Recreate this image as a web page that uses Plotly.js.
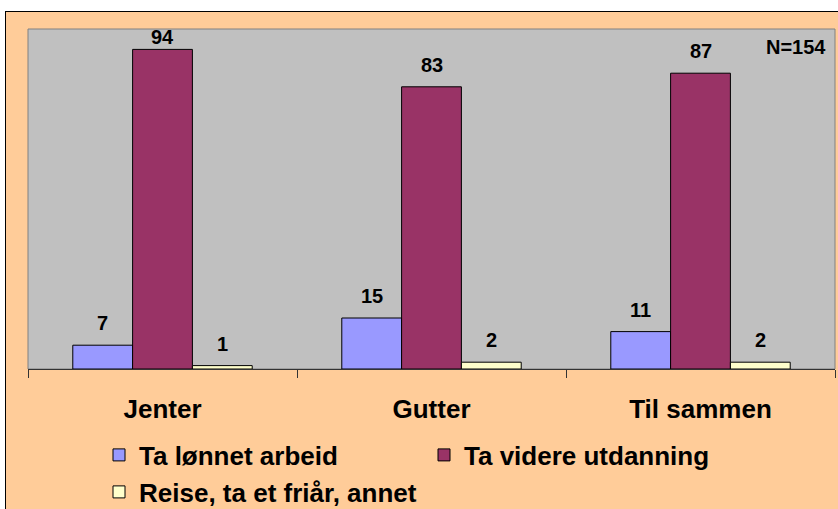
<!DOCTYPE html>
<html><head><meta charset="utf-8">
<script src="https://cdn.plot.ly/plotly-3.0.1.min.js"></script>
<style>html,body{margin:0;padding:0;background:#fff;}#chart{width:838px;height:509px;}</style>
</head><body><div id="chart"></div>
<script>
const categories = ["Jenter", "Gutter", "Til sammen"];
const seriesNames = ["Ta lønnet arbeid", "Ta videre utdanning", "Reise, ta et friår, annet"];
const arbeid = [7, 15, 11];
const utdanning = [94, 83, 87];
const reise = [1, 2, 2];
const note = "N=154";

const W = 838, H = 509;
const L = 28, R = 3, T = 29, B = 140;
const pw = W - L - R, ph = H - T - B;
const px = v => (v - L) / pw;
const py = v => (H - B - v) / ph;
const yMax = 100, bargap = 0.333;

const labelFont = {family: "Liberation Sans, Arial, sans-serif", size: 20, color: "#000", weight: "bold"};
const bigFont = {family: "Liberation Sans, Arial, sans-serif", size: 26, color: "#000", weight: "bold"};

const series = [arbeid, utdanning, reise];
const colors = ["#9999FF", "#993366", "#FFFFCC"];
const legends = ["legend", "legend", "legend2"];

const data = series.map((y, k) => ({
  type: "bar", name: seriesNames[k], x: categories, y: y,
  textposition: "none",
  marker: {color: colors[k], line: {color: "#000", width: 1}},
  legend: legends[k], hoverinfo: "skip"
}));

// data labels, placed above each bar (Excel-style offset, kept inside the plot top)
const barW = (1 - bargap) / series.length;
const labelAnns = [];
series.forEach((y, k) => {
  y.forEach((v, i) => {
    const barTopPx = T + ph * (1 - v / yMax);
    const shift = Math.min(22, barTopPx - (T + 8.5));
    labelAnns.push({
      text: String(v), xref: "x", yref: "y",
      x: i + (k - (series.length - 1) / 2) * barW, y: v,
      xanchor: "center", yanchor: "middle", yshift: shift,
      showarrow: false, font: labelFont
    });
  });
});

const layout = {
  width: W, height: H,
  margin: {l: L, r: R, t: T, b: B, pad: 0, autoexpand: false},
  paper_bgcolor: "#FFCC99", plot_bgcolor: "#C0C0C0",
  barmode: "group", bargap: bargap, bargroupgap: 0,
  font: bigFont,
  xaxis: {
    type: "category", range: [-0.5, 2.5], tickson: "boundaries",
    ticks: "outside", ticklen: 8, tickcolor: "#333", tickwidth: 1,
    showline: true, linecolor: "#333", linewidth: 1,
    tickfont: bigFont, ticklabelstandoff: 17, showgrid: false, fixedrange: true, automargin: false
  },
  yaxis: {range: [0, yMax], visible: false, showgrid: false, zeroline: false, fixedrange: true},
  legend: {
    orientation: "h", x: px(99), xanchor: "left", y: py(455), yanchor: "middle",
    font: bigFont, bgcolor: "rgba(0,0,0,0)", entrywidth: 280, entrywidthmode: "pixels"
  },
  legend2: {
    orientation: "h", x: px(99), xanchor: "left", y: py(492), yanchor: "middle",
    font: bigFont, bgcolor: "rgba(0,0,0,0)"
  },
  showlegend: true,
  annotations: labelAnns.concat([{
    text: note, xref: "paper", yref: "paper", x: px(828), y: py(47),
    xanchor: "right", yanchor: "middle", showarrow: false, font: labelFont
  }]),
  shapes: [
    {type: "rect", xref: "paper", yref: "paper", x0: px(-5), x1: px(845), y0: py(-5), y1: py(11), fillcolor: "#fff", line: {width: 0}, layer: "above"},
    {type: "rect", xref: "paper", yref: "paper", x0: px(-5), x1: px(5), y0: py(-5), y1: py(515), fillcolor: "#fff", line: {width: 0}, layer: "above"},
    {type: "line", xref: "paper", yref: "paper", x0: px(5), x1: px(845), y0: py(11.5), y1: py(11.5), line: {color: "#000", width: 1}},
    {type: "line", xref: "paper", yref: "paper", x0: px(5.5), x1: px(5.5), y0: py(11), y1: py(515), line: {color: "#000", width: 1}},
    {type: "rect", xref: "paper", yref: "paper", x0: 0, x1: 1, y0: 0, y1: 1, line: {color: "#808080", width: 1}, layer: "below"}
  ]
};
Plotly.newPlot("chart", data, layout, {displayModeBar: false, staticPlot: true});
</script></body></html>
